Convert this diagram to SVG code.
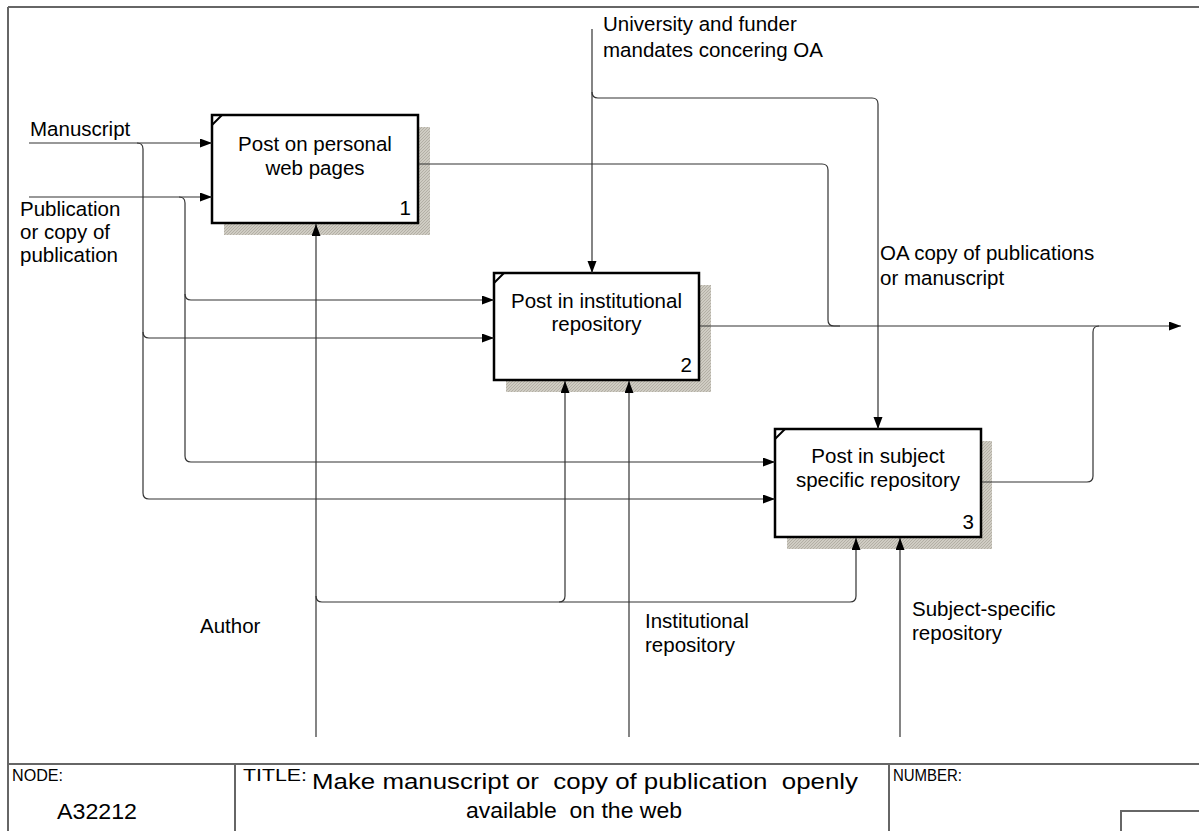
<svg xmlns="http://www.w3.org/2000/svg" width="1199" height="831" viewBox="0 0 1199 831">
<style>
text{font-family:"Liberation Sans",Arial,sans-serif;font-size:20.5px;fill:#000;white-space:pre}
.box{fill:#fff;stroke:#000;stroke-width:2.5}
.shadow{fill:url(#hatch);stroke:none}
.tick{stroke:#000;stroke-width:2;fill:none}
.c{fill:none;stroke:#333;stroke-width:1.2}
.ca{fill:none;stroke:#333;stroke-width:1.2;marker-end:url(#arr)}
.frame{fill:none;stroke:#666;stroke-width:2}
.tb{font-size:16px}
.cond{font-size:22px}
.mid{text-anchor:middle}
.end{text-anchor:end}
</style>
<defs>
<marker id="arr" markerUnits="userSpaceOnUse" markerWidth="12" markerHeight="10" refX="12" refY="4.5" orient="auto"><path d="M0,0 L12,4.5 L0,9 z" fill="#000"/></marker>
<pattern id="hatch" patternUnits="userSpaceOnUse" width="3" height="3"><rect width="3" height="3" fill="#cfccc3"/><path d="M0,3 L3,0" stroke="#b3afa5" stroke-width="1"/></pattern>
</defs>
<rect width="1199" height="831" fill="#fff"/>
<g id="frame">
<path class="frame" d="M8,7 H1199"/>
<path class="frame" d="M8,7 V831" stroke="#333"/>
<path class="frame" d="M8,764 H1199"/>
<path class="frame" d="M235,764 V831 M889,764 V831" stroke="#333"/>
<path class="frame" d="M1121,831 V811 H1199"/>
<text class="tb" x="12" y="781" textLength="51" lengthAdjust="spacingAndGlyphs">NODE:</text>
<text class="cond" x="57" y="819" textLength="80" lengthAdjust="spacingAndGlyphs">A32212</text>
<text class="tb" x="243" y="781" textLength="64" lengthAdjust="spacingAndGlyphs">TITLE:</text>
<text class="cond" x="312" y="789" textLength="546" lengthAdjust="spacingAndGlyphs">Make manuscript or  copy of publication  openly</text>
<text class="cond" x="466" y="818" textLength="216" lengthAdjust="spacingAndGlyphs">available  on the web</text>
<text class="tb" x="893" y="781" textLength="69" lengthAdjust="spacingAndGlyphs">NUMBER:</text>
</g>
<g id="labels">
<text x="30" y="136">Manuscript</text>
<text x="20" y="216">Publication</text>
<text x="20" y="239">or copy of</text>
<text x="20" y="262">publication</text>
<text x="603" y="31">University and funder</text>
<text x="603" y="57">mandates concering OA</text>
<text x="880" y="260">OA copy of publications</text>
<text x="880" y="285">or manuscript</text>
<text x="200" y="633">Author</text>
<text x="645" y="628">Institutional</text>
<text x="645" y="652">repository</text>
<text x="912" y="616">Subject-specific</text>
<text x="912" y="640">repository</text>
</g>
<g id="node1">
<rect class="shadow" x="224" y="127" width="206" height="108"/>
<rect class="box" x="212" y="115" width="206" height="108"/>
<path class="tick" d="M212,125 L222,115"/>
<text class="mid" x="315" y="151">Post on personal</text>
<text class="mid" x="315" y="175">web pages</text>
<text class="end" x="411" y="215">1</text>
</g>
<g id="node2">
<rect class="shadow" x="506" y="285" width="205" height="107"/>
<rect class="box" x="494" y="273" width="205" height="107"/>
<path class="tick" d="M494,283 L504,273"/>
<text class="mid" x="596.5" y="308">Post in institutional</text>
<text class="mid" x="596.5" y="331">repository</text>
<text class="end" x="692" y="372">2</text>
</g>
<g id="node3">
<rect class="shadow" x="787" y="441" width="205" height="108"/>
<rect class="box" x="775" y="429" width="206" height="108"/>
<path class="tick" d="M775,439 L785,429"/>
<text class="mid" x="878" y="463">Post in subject</text>
<text class="mid" x="878" y="487">specific repository</text>
<text class="end" x="974" y="529">3</text>
</g>
<g id="connectors">
<path class="ca" d="M29,143 H212"/>
<path class="ca" d="M137,143 Q143,143 143,149 V493 Q143,499 149,499 H775"/>
<path class="ca" d="M143,332 Q143,338 149,338 H494"/>
<path class="ca" d="M29,197 H212"/>
<path class="ca" d="M179,197 Q185,197 185,203 V456 Q185,462 191,462 H775"/>
<path class="ca" d="M185,294 Q185,300 191,300 H494"/>
<path class="ca" d="M316,737 V224"/>
<path class="ca" d="M316,596 Q316,602 322,602 H850 Q856,602 856,596 V538"/>
<path class="ca" d="M559,602 Q565,602 565,596 V381"/>
<path class="ca" d="M629,737 V381"/>
<path class="ca" d="M900,737 V538"/>
<path class="ca" d="M592,29 V273"/>
<path class="ca" d="M592,92 Q592,98 598,98 H872 Q878,98 878,104 V429"/>
<path class="c" d="M419,164 H822 Q828,164 828,170 V320 Q828,326 834,326 H840"/>
<path class="ca" d="M700,326 H1181"/>
<path class="c" d="M982,482 H1087 Q1093,482 1093,476 V332 Q1093,326 1099,326"/>
</g>
</svg>
